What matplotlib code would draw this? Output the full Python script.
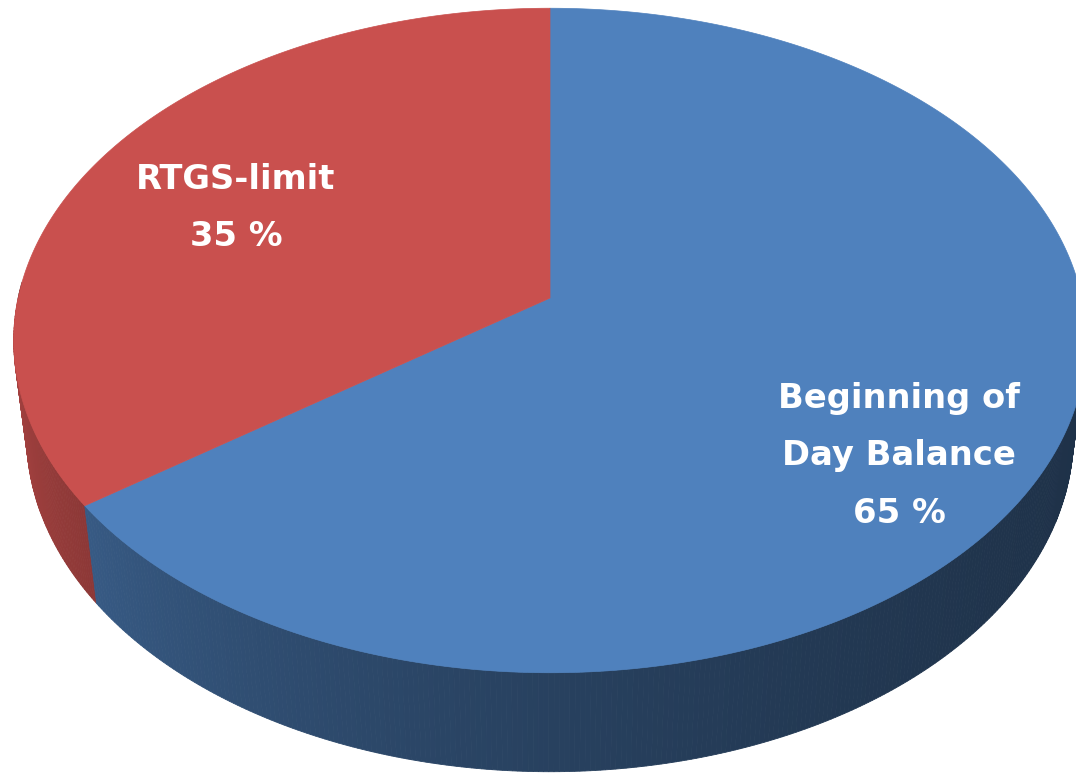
import textwrap
import numpy as np
import matplotlib
matplotlib.use("Agg")
import matplotlib.pyplot as plt
from matplotlib.patches import Polygon
from matplotlib.colors import to_rgb

# ---- data ----
categories = ["Beginning of Day Balance", "RTGS-limit"]
values = [65, 35]
colors = ["#4F81BD", "#C9504E"]

# ---- figure ----
W, H = 1076, 774
fig = plt.figure(figsize=(W / 100, H / 100), dpi=100)
ax = fig.add_axes([0, 0, 1, 1])
ax.set_xlim(0, W)
ax.set_ylim(H, 0)
ax.axis("off")

# perspective 3D pie geometry
elev = np.deg2rad(38.5)
D, FX, FY, h = 6.12, 3255.0, 3213.0, 0.238
CX, CY = 550, 298
ce, se = np.cos(elev), np.sin(elev)


def proj(t, z=0.0, r=1.0):
    X = r * np.cos(t)
    Y = r * np.sin(t)
    d = D + Y * ce - z * se
    yc = Y * se + z * ce
    return CX + FX * X / d, CY - FY * yc / d


def shade(t):
    tt = np.rad2deg(t)
    tt = ((tt + 180) % 360) - 180  # -180..180
    k = np.clip(-tt / 180.0, 0, 1)
    return 0.38 + 0.5 * k ** 2


total = float(sum(values))
start = np.pi / 2
bounds = [start]
for v in values:
    bounds.append(bounds[-1] - 2 * np.pi * v / total)

# side quads
quads = []
for i, col in enumerate(colors):
    a0, a1 = bounds[i], bounds[i + 1]
    ts = np.linspace(a0, a1, int(abs(a1 - a0) / np.deg2rad(0.5)) + 2)
    for ta, tb in zip(ts[:-1], ts[1:]):
        tm = 0.5 * (ta + tb)
        if np.sin(tm) > 0.05:
            continue
        xa, ya = proj(ta, 0)
        xb, yb = proj(tb, 0)
        xc, yc = proj(tb, -h)
        xd, yd = proj(ta, -h)
        f = shade(tm)
        rgb = np.array(to_rgb(col)) * f
        quads.append((np.sin(tm), [(xa, ya), (xb, yb), (xc, yc), (xd, yd)], rgb))

quads.sort(key=lambda q: -q[0])
for depth, pts, rgb in quads:
    ax.add_patch(Polygon(pts, closed=True, facecolor=rgb, edgecolor=rgb,
                         linewidth=0.6, zorder=1))

# top faces
for i, col in enumerate(colors):
    a0, a1 = bounds[i], bounds[i + 1]
    ts = np.linspace(a0, a1, 400)
    xs, ys = proj(ts, 0)
    pts = [(CX, CY)] + list(zip(xs, ys))
    ax.add_patch(Polygon(pts, closed=True, facecolor=col, edgecolor=col,
                         linewidth=0.5, zorder=3))

# labels
label_xy = [(899, 456), (236, 208)]
for cat, v, (lx, ly) in zip(categories, values, label_xy):
    txt = textwrap.fill(cat, 12) + f"\n{v} %"
    ax.text(lx, ly, txt, ha="center", va="center", color="white",
            fontsize=24.3, fontweight="bold", family="DejaVu Sans",
            linespacing=1.95, zorder=5)

fig.savefig("out.png", dpi=100)
